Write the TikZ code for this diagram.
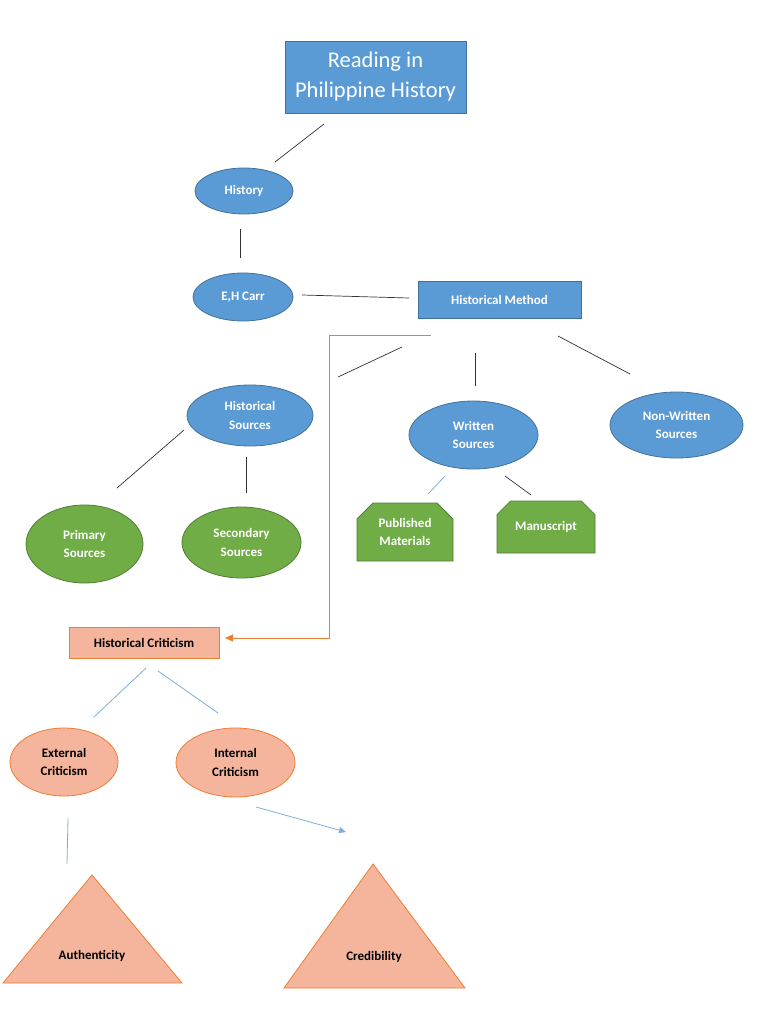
\documentclass[tikz,border=0pt]{standalone}
\usepackage{fontspec}
\setmainfont{Carlito}
\usetikzlibrary{shapes.geometric,shapes.misc,arrows.meta}
\definecolor{bfill}{HTML}{5B9BD5}
\definecolor{bline}{HTML}{41719C}
\definecolor{gfill}{HTML}{70AD47}
\definecolor{gline}{HTML}{507E32}
\definecolor{sfill}{HTML}{F5B59C}
\definecolor{sline}{HTML}{ED7D31}
\definecolor{lblue}{HTML}{7FAEDC}
\tikzset{
  lbl/.style={font=\bfseries\fontsize{13}{18.5}\selectfont},
  bluebox/.style={rectangle,draw=bline,fill=bfill,text=white,line width=0.8pt,align=center,inner sep=0pt},
  blueell/.style={ellipse,draw=bline,fill=bfill,text=white,line width=0.8pt,align=center,inner sep=0pt,lbl},
  greenell/.style={ellipse,draw=gline,fill=gfill,text=white,line width=0.8pt,align=center,inner sep=0pt,lbl},
  greensnip/.style={chamfered rectangle,chamfered rectangle corners={north east,north west},chamfered rectangle xsep=8pt,chamfered rectangle ysep=8pt,draw=gline,fill=gfill,text=white,line width=0.8pt,align=center,inner sep=0pt,lbl},
  salell/.style={ellipse,draw=sline,fill=sfill,text=black,line width=0.8pt,align=center,inner sep=0pt,lbl},
  tri/.style={draw=sline,fill=sfill,line width=0.8pt},
  conn/.style={line width=0.7pt,black!80},
  lconn/.style={line width=0.8pt,lblue},
}
\begin{document}
\begin{tikzpicture}[x=1pt,y=-1pt]
\useasboundingbox (0,0) rectangle (768,1024);
\fill[white] (0,0) rectangle (768,1024);

% nodes
\node[bluebox,minimum width=181pt,minimum height=72pt,font=\fontsize{22.5}{30}\selectfont] (title) at (375.5,77) {Reading in\\Philippine History};
\node[blueell,minimum width=98pt,minimum height=46pt] (hist) at (244,191) {History};
\node[blueell,minimum width=100pt,minimum height=48pt] (carr) at (243,297) {E,H Carr};
\node[bluebox,minimum width=163pt,minimum height=37pt,lbl] (method) at (499.5,299.5) {Historical Method};
\node[blueell,minimum width=126pt,minimum height=61pt] (hsrc) at (250,415.5) {Historical\\Sources};
\node[blueell,minimum width=129pt,minimum height=68pt] (wsrc) at (473.5,435) {Written\\Sources};
\node[blueell,minimum width=133pt,minimum height=66pt] (nwsrc) at (676.5,425) {Non-Written\\Sources};
\node[greenell,minimum width=117pt,minimum height=78pt] (prim) at (84.5,544) {Primary\\Sources};
\node[greenell,minimum width=119pt,minimum height=71pt] (sec) at (241.5,542.5) {Secondary\\Sources};
\node[greensnip,minimum width=96pt,minimum height=58pt] (pub) at (405,532) {Published\\Materials};
\node[greensnip,minimum width=98pt,minimum height=52pt] (manu) at (546,527) {Manuscript};
\node[rectangle,draw=sline,fill=sfill,line width=0.8pt,minimum width=150pt,minimum height=31pt,inner sep=0pt,lbl] (crit) at (144,642.5) {Historical Criticism};
\node[salell,minimum width=108pt,minimum height=68pt] (ext) at (64,762) {External\\Criticism};
\node[salell,minimum width=119pt,minimum height=69pt] (int) at (235.5,762.5) {Internal\\Criticism};

% triangles
\draw[tri] (92,875) -- (182,983) -- (3,983) -- cycle;
\node[lbl] (auth) at (92,956) {Authenticity};
\draw[tri] (373,864) -- (465,988) -- (284,988) -- cycle;
\node[lbl] (cred) at (374,957) {Credibility};

% connector end points
\coordinate (a1) at (324,124); \coordinate (a2) at (275,162);
\coordinate (b1) at (240,229); \coordinate (b2) at (240,258);
\coordinate (c1) at (302,295); \coordinate (c2) at (409,298);
\coordinate (d1) at (402,347); \coordinate (d2) at (338,377);
\coordinate (e1) at (475,353); \coordinate (e2) at (475,386);
\coordinate (f1) at (558,336); \coordinate (f2) at (630,374);
\coordinate (g1) at (184,430); \coordinate (g2) at (117,488);
\coordinate (h1) at (246,457); \coordinate (h2) at (246,493);
\coordinate (i1) at (445,476); \coordinate (i2) at (428,494);
\coordinate (j1) at (505,476); \coordinate (j2) at (531,495);
\coordinate (k1) at (146,668); \coordinate (k2) at (94,717);
\coordinate (l1) at (158,671); \coordinate (l2) at (218,713);
\coordinate (m1) at (68,818); \coordinate (m2) at (67,864);
\coordinate (n1) at (256,807); \coordinate (n2) at (346,832);
\coordinate (o1) at (431,335); \coordinate (o2) at (329,335); \coordinate (o3) at (329,638); \coordinate (o4) at (225,638);

\draw[conn] (a1) -- (a2);
\draw[conn] (b1) -- (b2);
\draw[conn] (c1) -- (c2);
\draw[conn] (d1) -- (d2);
\draw[conn] (e1) -- (e2);
\draw[conn] (f1) -- (f2);
\draw[conn] (g1) -- (g2);
\draw[conn] (h1) -- (h2);
\draw[lconn] (i1) -- (i2);
\draw[conn] (j1) -- (j2);
\draw[lconn] (k1) -- (k2);
\draw[lconn] (l1) -- (l2);
\draw[lconn] (m1) -- (m2);
\draw[lconn,-{Triangle[length=7pt,width=6pt]}] (n1) -- (n2);
\draw[line width=0.9pt,sline,-{Triangle[length=8pt,width=7pt]}] (o1) -- (o2) -- (o3) -- (o4);
\end{tikzpicture}
\end{document}
